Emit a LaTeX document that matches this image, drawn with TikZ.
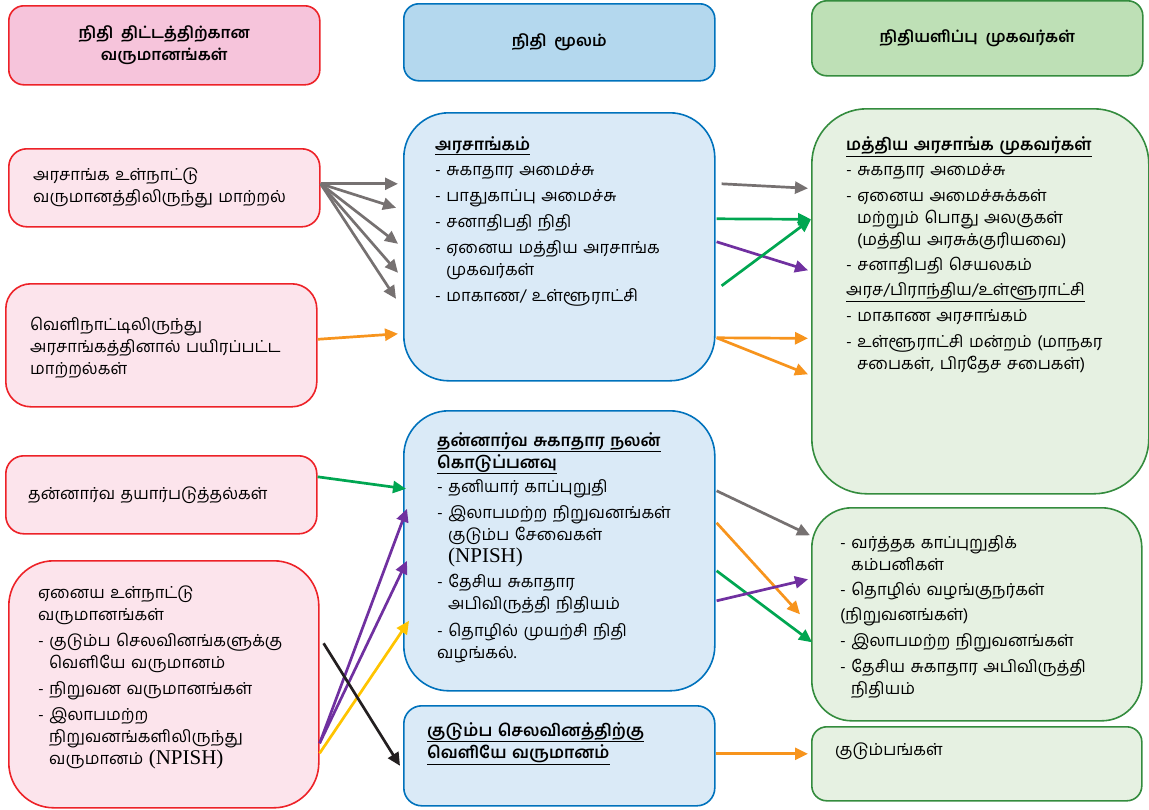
\documentclass[tikz,border=0pt]{standalone}
\usepackage{fontspec}
\usetikzlibrary{arrows.meta,calc}
\newfontfamily\tam[Script=Tamil,WordSpace=2.3]{Hind Madurai}
\newfontfamily\tamhd[Script=Tamil,WordSpace=2.0]{Hind Madurai}
\newfontfamily\npfont{Liberation Serif}
\definecolor{myred}{RGB}{237,34,40}
\definecolor{pinkhd}{RGB}{246,196,219}
\definecolor{pinkfl}{RGB}{252,228,236}
\definecolor{myblue}{RGB}{0,114,188}
\definecolor{bluehd}{RGB}{180,216,238}
\definecolor{bluefl}{RGB}{218,234,247}
\definecolor{mygreen}{RGB}{52,140,62}
\definecolor{greenhd}{RGB}{190,224,182}
\definecolor{greenfl}{RGB}{230,241,226}
\definecolor{agray}{RGB}{118,113,113}
\definecolor{agreen}{RGB}{0,166,81}
\definecolor{apurple}{RGB}{112,48,160}
\definecolor{aorange}{RGB}{247,148,29}
\definecolor{ayellow}{RGB}{255,196,0}
\definecolor{ablack}{RGB}{35,31,32}
\newcommand{\np}{\smash{\npfont\fontsize{21}{22}\selectfont (NPISH)}}
\newcommand{\ind}{\hspace*{11pt}}
\newcommand{\hd}[1]{\underline{\bfseries #1}}
\tikzset{
  box/.style={anchor=north west, inner sep=0pt, line width=1.6pt},
  hdfont/.style={align=center, font=\tamhd\bfseries\fontsize{16}{22}\selectfont},
  pinkhead/.style={box, hdfont, draw=myred, fill=pinkhd, rounded corners=15pt},
  bluehead/.style={box, hdfont, draw=myblue, fill=bluehd, rounded corners=15pt},
  greenhead/.style={box, hdfont, draw=mygreen, fill=greenhd, rounded corners=15pt},
  pinkbox/.style={box, draw=myred, fill=pinkfl, rounded corners=#1},
  bluebox/.style={box, draw=myblue, fill=bluefl, rounded corners=#1},
  greenbox/.style={box, draw=mygreen, fill=greenfl, rounded corners=#1},
  txt/.style={anchor=base west, inner sep=0pt, text width=330pt, align=left, font=\tam\fontsize{16.5}{22}\selectfont},
  arr/.style={line width=2.7pt, -{Triangle[length=13pt,width=12pt]}},
}
\begin{document}
\begin{tikzpicture}[x=1pt,y=-1pt]
\useasboundingbox (0,0) rectangle (1149,809);

% headers
\node[pinkhead, minimum width=311pt, minimum height=79pt] (H1) at (8,5) {நிதி திட்டத்திற்கான\\வருமானங்கள்};
\node[bluehead, minimum width=311pt, minimum height=77pt] (H2) at (403,3) {நிதி மூலம்};
\node[greenhead, minimum width=331pt, minimum height=75pt] (H3) at (811,0) {நிதியளிப்பு முகவர்கள்};

% left column
\node[pinkbox=18pt, minimum width=311pt, minimum height=78pt] (L1) at (8,148) {};
\node[pinkbox=25pt, minimum width=311pt, minimum height=123pt] (L2) at (5,283) {};
\node[pinkbox=18pt, minimum width=311pt, minimum height=78pt] (L3) at (5,455) {};
\node[pinkbox=45pt, minimum width=310pt, minimum height=247pt] (L4) at (8,560) {};

% middle column
\node[bluebox=45pt, minimum width=311pt, minimum height=268pt] (M1) at (403,112) {};
\node[bluebox=45pt, minimum width=311pt, minimum height=280pt] (M2) at (403,410) {};
\node[bluebox=18pt, minimum width=311pt, minimum height=100pt] (M3) at (403,705) {};

% right column
\node[greenbox=55pt, minimum width=337pt, minimum height=385pt] (R1) at (811,108) {};
\node[greenbox=40pt, minimum width=330pt, minimum height=213pt] (R2) at (811,507) {};
\node[greenbox=15pt, minimum width=330pt, minimum height=74pt] (R3) at (811,726) {};

% texts
\node[txt] (tL1) at (33,180) {அரசாங்க உள்நாட்டு\\வருமானத்திலிருந்து மாற்றல்};
\node[txt] (tL2) at (30,330) {வெளிநாட்டிலிருந்து\\அரசாங்கத்தினால் பயிரப்பட்ட\\மாற்றல்கள்};
\node[txt] (tL3) at (28,499) {தன்னார்வ தயார்படுத்தல்கள்};
\node[txt] (tL4) at (38,598) {ஏனைய உள்நாட்டு\\வருமானங்கள்\\[4pt]
- குடும்ப செலவினங்களுக்கு\\\ind வெளியே வருமானம்\\[4pt]
- நிறுவன வருமானங்கள்\\[4pt]
- இலாபமற்ற\\\ind நிறுவனங்களிலிருந்து\\\ind வருமானம் \np};

\node[txt] (tM1) at (435,150) {\hd{அரசாங்கம்}\\[3pt]
- சுகாதார அமைச்சு\\[4pt]
- பாதுகாப்பு அமைச்சு\\[4pt]
- சனாதிபதி நிதி\\[4pt]
- ஏனைய மத்திய அரசாங்க\\\ind முகவர்கள்\\[4pt]
- மாகாண/ உள்ளூராட்சி};

\node[txt] (tM2) at (437,446) {\hd{தன்னார்வ சுகாதார நலன்}\\\hd{கொடுப்பனவு}\\[2pt]
- தனியார் காப்புறுதி\\[4pt]
- இலாபமற்ற நிறுவனங்கள்\\\ind குடும்ப சேவைகள்\\\ind \np\\[3pt]
- தேசிய சுகாதார\\\ind அபிவிருத்தி நிதியம்\\[5pt]
- தொழில் முயற்சி நிதி\\வழங்கல்.};

\node[txt] (tM3) at (427,736) {\hd{குடும்ப செலவினத்திற்கு}\\\hd{வெளியே வருமானம்}};

\node[txt] (tR1) at (846,150) {\hd{மத்திய அரசாங்க முகவர்கள்}\\[3pt]
- சுகாதார அமைச்சு\\[4pt]
- ஏனைய அமைச்சுக்கள்\\\ind மற்றும் பொது அலகுகள்\\\ind (மத்திய அரசுக்குரியவை)\\[3pt]
- சனாதிபதி செயலகம்\\[3pt]
\underline{அரச/பிராந்திய/உள்ளூராட்சி}\\[4pt]
- மாகாண அரசாங்கம்\\[4pt]
- உள்ளூராட்சி மன்றம் (மாநகர\\\ind சபைகள், பிரதேச சபைகள்)};

\node[txt] (tR2) at (840,548) {- வர்த்தக காப்புறுதிக்\\\ind கம்பனிகள்\\[3pt]
- தொழில் வழங்குநர்கள்\\[3pt]
(நிறுவனங்கள்)\\[4pt]
- இலாபமற்ற நிறுவனங்கள்\\[4pt]
- தேசிய சுகாதார அபிவிருத்தி\\\ind நிதியம்};

\node[txt] (tR3) at (835,755) {குடும்பங்கள்};

% arrows from L1
\foreach \dx/\dy in {-5/-63,-7/-39,-5/-3,-5/26,-7/52}
  \draw[arr, agray] ($(L1.east)+(0,-4)$) -- ($(M1.west)+(\dx,\dy)$);
\draw[arr, aorange] ($(L2.east)+(0,-6)$) -- ($(M1.west)+(-5,87)$);

% arrows M1 -> R1
\draw[arr, agray] ($(M1.east)+(6,-63)$) -- ($(R1.west)+(-3,-113)$);
\draw[arr, agreen] ($(M1.east)+(1,-28)$) -- ($(R1.west)+(0,-82)$);
\draw[arr, apurple] ($(M1.east)+(1,-5)$) -- ($(R1.west)+(-3,-31)$);
\draw[arr, agreen] ($(M1.east)+(6,39)$) -- ($(R1.west)+(0,-82)$);
\draw[arr, aorange] ($(M1.east)+(1,91)$) -- ($(R1.west)+(-3,37)$);
\draw[arr, aorange] ($(M1.east)+(1,91)$) -- ($(R1.west)+(-3,73)$);

% arrows into M2 / M3
\draw[arr, agreen] ($(L3.east)+(0,-18)$) -- ($(M2.west)+(3,-62)$);
\draw[arr, apurple] ($(L4.east)+(0,59)$) -- ($(M2.west)+(4,-42)$);
\draw[arr, apurple] ($(L4.east)+(0,59)$) -- ($(M2.west)+(4,10)$);
\draw[arr, ayellow] ($(L4.east)+(0,69)$) -- ($(M2.west)+(6,70)$);
\draw[arr, ablack] ($(L4.east)+(4,-41)$) -- ($(M3.west)+(-3,10)$);

% arrows M2 -> R2
\draw[arr, agray] ($(M2.east)+(1,-60)$) -- ($(R2.west)+(-1,-79)$);
\draw[arr, aorange] ($(M2.east)+(1,-28)$) -- ($(R2.west)+(-11,0)$);
\draw[arr, agreen] ($(M2.east)+(1,20)$) -- ($(R2.west)+(1,28)$);
\draw[arr, apurple] ($(M2.east)+(1,50)$) -- ($(R2.west)+(-3,-35)$);

% M3 -> R3
\draw[arr, aorange] ($(M3.east)+(0,-2)$) -- ($(R3.west)+(-3,-10)$);
\end{tikzpicture}
\end{document}
